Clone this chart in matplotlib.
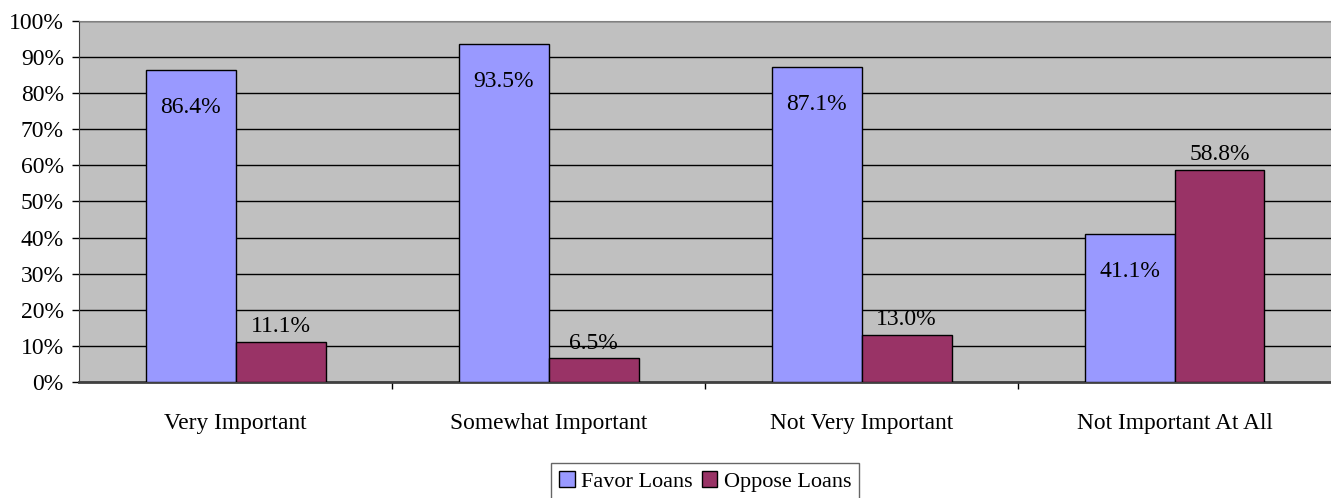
import numpy as np
import matplotlib.pyplot as plt
from matplotlib.ticker import FixedLocator, PercentFormatter

# data
categories = ["Very Important", "Somewhat Important", "Not Very Important", "Not Important At All"]
favor = [86.4, 93.5, 87.1, 41.1]
oppose = [11.1, 6.5, 13.0, 58.8]

plt.rcParams['font.family'] = ['Liberation Serif', 'DejaVu Serif']

fig = plt.figure(figsize=(13.31, 4.98), dpi=100)
ax = fig.add_axes([0.0594, 0.233, 0.9406, 0.725])
ax.set_facecolor("#C0C0C0")

x = np.arange(len(categories))
w = 0.2875
b1 = ax.bar(x - w / 2, favor, w, color="#9999FF", edgecolor="black", linewidth=1, label="Favor Loans", zorder=3)
b2 = ax.bar(x + w / 2, oppose, w, color="#993366", edgecolor="black", linewidth=1, label="Oppose Loans", zorder=3)

# value labels: favor inside near top, oppose above the bar
for rect, v in zip(b1, favor):
    ax.annotate(f"{v:.1f}%", (rect.get_x() + rect.get_width() / 2, v), xytext=(0, -27),
                textcoords="offset points", ha="center", va="center", fontsize=17, zorder=4)
for rect, v in zip(b2, oppose):
    ax.annotate(f"{v:.1f}%", (rect.get_x() + rect.get_width() / 2, v), xytext=(0, 11),
                textcoords="offset points", ha="center", va="center", fontsize=17, zorder=4)

ax.set_xlim(-0.5, len(categories) - 0.5)
ax.set_ylim(0, 100)
ax.set_yticks(np.arange(0, 101, 10))
ax.yaxis.set_major_formatter(PercentFormatter(decimals=0))
ax.yaxis.grid(True, color="black", linewidth=1, zorder=1)
ax.set_axisbelow(True)

ax.set_xticks(x)
ax.set_xticklabels(categories)
ax.xaxis.set_minor_locator(FixedLocator(np.arange(0.5, len(categories) - 0.5, 1)))
ax.tick_params(axis="x", which="major", length=0, pad=22, labelsize=16.8)
ax.tick_params(axis="x", which="minor", length=5, width=1, color="black")
ax.tick_params(axis="y", length=5, width=1, labelsize=17, pad=6)

ax.spines["right"].set_visible(False)
ax.spines["top"].set_color("#808080")
ax.spines["left"].set_color("#404040")
ax.spines["bottom"].set_color("#404040")
ax.spines["bottom"].set_linewidth(2)

leg = fig.legend(loc="lower center", bbox_to_anchor=(0.530, -0.025), ncol=2, fontsize=16, frameon=True,
                 fancybox=False, edgecolor="#404040", handlelength=0.7, handleheight=0.7,
                 handletextpad=0.3, columnspacing=0.4, borderpad=0.35)
leg.get_frame().set_linewidth(1)

fig.savefig("out.png", dpi=100)
